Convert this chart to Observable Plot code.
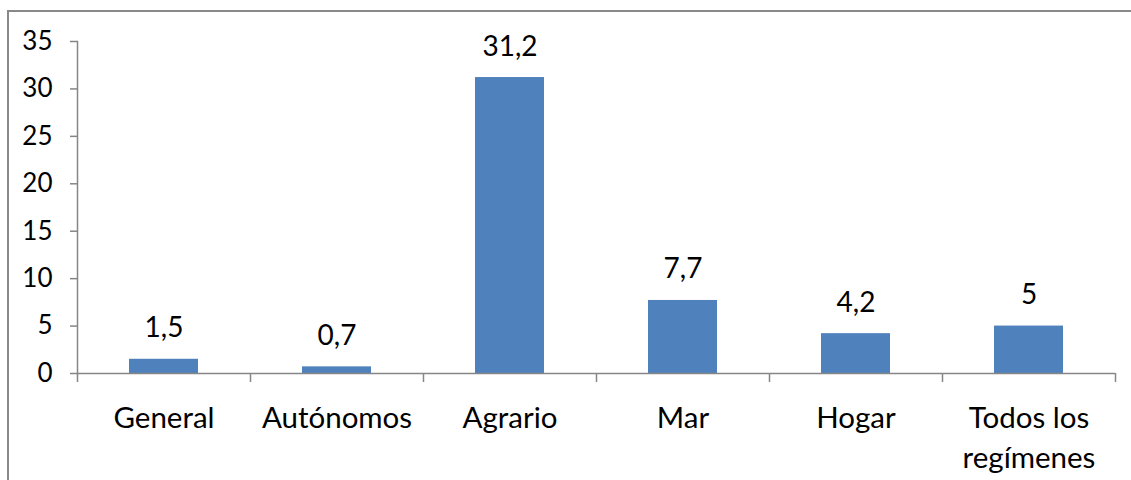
<!DOCTYPE html>
<html>
<head>
<meta charset="utf-8">
<script src="https://cdn.jsdelivr.net/npm/d3@7"></script>
<script src="https://cdn.jsdelivr.net/npm/@observablehq/plot@0.6"></script>
<style>
  html, body { margin: 0; padding: 0; background: #fff; overflow: hidden; }
  #wrap { position: relative; width: 1131px; height: 480px; }
  #border { position: absolute; left: 7px; top: 10px; width: 1300px; height: 700px;
            border-left: 2px solid #898989; border-top: 2px solid #898989; box-sizing: border-box; }
  #chart { position: absolute; left: 0; top: 0; }
</style>
</head>
<body>
<div id="wrap"><div id="border"></div><div id="chart"></div></div>
<script>
const categories = ["General", "Autónomos", "Agrario", "Mar", "Hogar", "Todos los\nregímenes"];
const values = [1.5, 0.7, 31.2, 7.7, 4.2, 5];
const labels = ["1,5", "0,7", "31,2", "7,7", "4,2", "5"];
const yTicks = [0, 5, 10, 15, 20, 25, 30, 35];

const data = categories.map((c, i) => ({cat: c, value: values[i], label: labels[i]}));

const W = 1131, H = 480, ML = 77, MR = 16, MT = 41, MB = 107;
const step = (W - ML - MR) / categories.length;
const font = "Lato, 'Open Sans', sans-serif";
const axisColor = "#868686";

const chart = Plot.plot({
  width: W,
  height: H,
  marginLeft: ML,
  marginRight: MR,
  marginTop: MT,
  marginBottom: MB,
  style: {fontFamily: font, background: "transparent", color: "#000"},
  x: {domain: categories, paddingInner: 0.6, paddingOuter: 0.3, axis: null},
  y: {domain: [0, 35], axis: null},
  marks: [
    Plot.barY(data, {x: "cat", y: "value", fill: "#4F81BD"}),
    Plot.ruleY([0], {stroke: axisColor, strokeWidth: 1.5}),
    Plot.frame({anchor: "left", stroke: axisColor, strokeWidth: 1.5}),
    Plot.axisY({ticks: yTicks, tickSize: 7, tickPadding: 18, fontSize: 26, stroke: axisColor, strokeWidth: 1.5, strokeOpacity: 1, fill: "#000", label: null}),
    Plot.axisX({ticks: categories, tickSize: 9, dx: -step / 2, tickFormat: () => "", stroke: axisColor, strokeWidth: 1.5, strokeOpacity: 1, label: null}),
    Plot.axisX({ticks: [categories[categories.length - 1]], tickSize: 9, dx: step / 2, tickFormat: () => "", stroke: axisColor, strokeWidth: 1.5, strokeOpacity: 1, label: null}),
    Plot.text(data, {x: "cat", y: 0, text: "cat", lineAnchor: "top", dy: 26, fontSize: 29.5, lineHeight: 1.36, fill: "#000"}),
    Plot.text(data, {x: "cat", y: "value", text: "label", lineAnchor: "bottom", dy: -22, fontSize: 28, fill: "#000"})
  ]
});
document.getElementById("chart").appendChild(chart);
</script>
</body>
</html>
